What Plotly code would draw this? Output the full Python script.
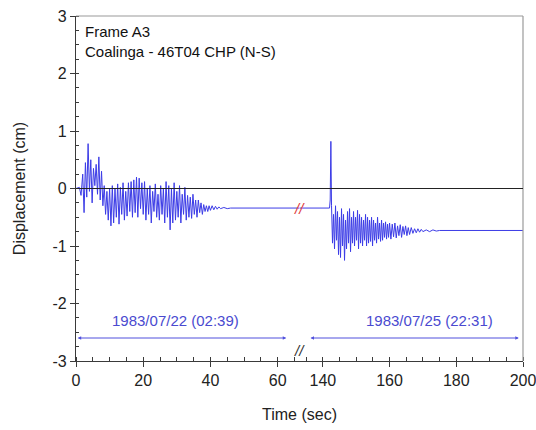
import plotly.graph_objects as go

# ---------------- data ----------------
# Record 1 (1983/07/22 02:39), time (s) and displacement (cm)
t_rec1 = [0.0, 1.0, 1.5, 2.0, 2.4, 2.8, 3.2, 3.6, 4.0, 4.4, 4.8, 5.2, 5.6, 6.0, 6.4, 6.8,
          7.2, 7.6, 8.0, 8.4, 8.8, 9.2, 9.6, 10.0, 10.4, 10.8, 11.2, 11.6, 12.0, 12.4,
          12.8, 13.2, 13.6, 14.0, 14.4, 14.8, 15.2, 15.6, 16.0, 16.4, 16.8, 17.2, 17.6,
          18.0, 18.4, 18.8, 19.2, 19.6, 20.0, 20.4, 20.8, 21.2, 21.6, 22.0, 22.4, 22.8,
          23.2, 23.6, 24.0, 24.4, 24.8, 25.2, 25.6, 26.0, 26.4, 26.8, 27.2, 27.6, 28.0,
          28.4, 28.8, 29.2, 29.6, 30.0, 30.4, 30.8, 31.2, 31.6, 32.0, 32.4, 32.8, 33.2,
          33.6, 34.0, 34.4, 34.8, 35.2, 35.6, 36.0, 36.4, 36.8, 37.2, 37.6, 38.0, 38.4,
          38.8, 39.2, 39.6, 40.0, 40.5, 41.0, 41.5, 42.0, 42.5, 43.0, 44.0, 45.0, 46.0,
          66.5]
d_rec1 = [0.0, 0.02, -0.12, 0.25, -0.42, 0.45, -0.15, 0.78, -0.05, 0.5, -0.25, 0.35, 0.05,
          0.42, -0.1, 0.55, -0.2, 0.3, -0.3, 0.05, -0.45, -0.05, -0.55, 0.0, -0.65, 0.05,
          -0.6, 0.0, -0.5, 0.08, -0.62, 0.02, -0.45, 0.1, -0.55, -0.05, -0.48, 0.1, -0.4,
          0.12, -0.5, 0.15, -0.42, 0.2, -0.5, 0.18, -0.35, 0.1, -0.45, 0.12, -0.55, 0.0,
          -0.45, 0.05, -0.6, -0.05, -0.4, 0.08, -0.5, -0.1, -0.55, 0.05, -0.45, 0.0, -0.6,
          0.12, -0.5, 0.05, -0.72, 0.0, -0.6, 0.1, -0.55, -0.05, -0.5, 0.05, -0.6, -0.1,
          -0.45, 0.02, -0.55, -0.12, -0.5, -0.15, -0.52, -0.1, -0.45, -0.2, -0.5, -0.2,
          -0.42, -0.25, -0.45, -0.28, -0.4, -0.3, -0.4, -0.3, -0.38, -0.3, -0.37, -0.31,
          -0.36, -0.32, -0.35, -0.33, -0.35, -0.34, -0.34]

# Record 2 (1983/07/25 22:31)
t_rec2 = [133.0, 142.0, 142.2, 142.4, 142.6, 142.9, 143.2, 143.5, 143.8, 144.1, 144.4,
          144.7, 145.0, 145.3, 145.6, 145.9, 146.2, 146.5, 146.8, 147.1, 147.4, 147.7,
          148.0, 148.3, 148.6, 148.9, 149.2, 149.5, 149.8, 150.1, 150.4, 150.7, 151.0,
          151.3, 151.6, 151.9, 152.2, 152.5, 152.8, 153.1, 153.4, 153.7, 154.0, 154.3,
          154.6, 154.9, 155.2, 155.5, 155.8, 156.1, 156.4, 156.7, 157.0, 157.3, 157.6,
          157.9, 158.2, 158.5, 158.8, 159.1, 159.4, 159.7, 160.0, 160.4, 160.8, 161.2,
          161.6, 162.0, 162.4, 162.8, 163.2, 163.6, 164.0, 164.4, 164.8, 165.2, 165.6,
          166.0, 166.5, 167.0, 167.5, 168.0, 168.5, 169.0, 169.5, 170.0, 171.0, 172.0,
          173.0, 174.0, 175.0, 200.0]
d_rec2 = [-0.34, -0.34, -0.2, 0.82, -0.3, -0.95, -0.45, -1.05, -0.3, -0.9, -0.4, -1.15,
          -0.5, -1.2, -0.35, -1.0, -0.45, -1.25, -0.55, -1.05, -0.4, -0.95, -0.35, -1.1,
          -0.5, -0.95, -0.4, -1.0, -0.5, -0.9, -0.38, -1.05, -0.45, -0.95, -0.5, -1.0,
          -0.55, -0.9, -0.45, -1.0, -0.5, -0.95, -0.55, -0.92, -0.5, -1.0, -0.55, -0.9,
          -0.6, -0.95, -0.5, -0.88, -0.6, -0.92, -0.55, -0.9, -0.6, -0.85, -0.58, -0.88,
          -0.62, -0.85, -0.6, -0.88, -0.62, -0.84, -0.6, -0.86, -0.65, -0.82, -0.63,
          -0.85, -0.66, -0.8, -0.65, -0.82, -0.68, -0.8, -0.68, -0.78, -0.7, -0.77, -0.7,
          -0.76, -0.71, -0.75, -0.72, -0.75, -0.72, -0.74, -0.73, -0.73]

# record duration markers (start, end) and labels
rec1_span = [0.5, 63.0]
rec2_span = [136.3, 199.2]
span_level = -2.6
rec1_label = "1983/07/22 (02:39)"
rec2_label = "1983/07/25 (22:31)"
rec1_label_pos = [29.7, -2.3]
rec2_label_pos = [172.0, -2.3]

x1_ticks = [0, 20, 40, 60]
x1_ticktext = ["0", "20", "40", "60"]
x2_ticks = [140, 160, 180, 200]
x2_ticktext = ["140", "160", "180", "200"]
y_ticks = [-3, -2, -1, 0, 1, 2, 3]
y_ticktext = ["-3", "-2", "-1", "0", "1", "2", "3"]

title_lines = ["Frame A3", "Coalinga - 46T04 CHP (N-S)"]

# ---------------- figure ----------------
FONT = "Liberation Sans, Arial, sans-serif"
BLUE = "#3c3ce6"
AX = "#3a3a3a"

fig = go.Figure()
fig.add_trace(go.Scatter(x=t_rec1, y=d_rec1, mode="lines", xaxis="x", yaxis="y",
                         line=dict(color=BLUE, width=1), showlegend=False))
fig.add_trace(go.Scatter(x=t_rec2, y=d_rec2, mode="lines", xaxis="x2", yaxis="y",
                         line=dict(color=BLUE, width=1), showlegend=False))

tickfont = dict(family=FONT, size=16, color="#222")

fig.update_layout(
    width=536, height=430,
    margin=dict(l=76, r=13, t=16, b=69, autoexpand=False),
    paper_bgcolor="white", plot_bgcolor="white",
    font=dict(family=FONT, color="#222"),
    xaxis=dict(domain=[0, 0.5], range=[0, 66.5], tickvals=x1_ticks, ticktext=x1_ticktext,
               ticks="outside", ticklen=5, tickcolor=AX, showline=True, linecolor=AX,
               linewidth=1.2, showgrid=False, zeroline=False, tickfont=tickfont, anchor="y",
               automargin=False, ticklabeloverflow="allow",
               minor=dict(ticks="inside", dtick=5, tick0=0, ticklen=4, tickcolor=AX, showgrid=False)),
    xaxis2=dict(domain=[0.5, 1], range=[133, 200], tickvals=x2_ticks, ticktext=x2_ticktext,
                ticks="outside", ticklen=5, tickcolor=AX, showline=True, linecolor=AX,
                linewidth=1.2, showgrid=False, zeroline=False, tickfont=tickfont, anchor="y",
                automargin=False, ticklabeloverflow="allow",
                minor=dict(ticks="inside", dtick=5, tick0=140, ticklen=4, tickcolor=AX, showgrid=False)),
    yaxis=dict(range=[-3, 3], tickvals=y_ticks, ticktext=y_ticktext, ticks="outside",
               ticklen=5, tickcolor=AX, showline=True, linecolor=AX, linewidth=1.2,
               showgrid=False, zeroline=False, tickfont=tickfont, anchor="x", automargin=False,
               title=dict(text="Displacement (cm)", font=dict(family=FONT, size=16, color="#222"),
                          standoff=22),
               minor=dict(ticks="inside", dtick=0.25, tick0=0, ticklen=3, tickcolor=AX, showgrid=False)),
)

# frame (top / right), zero line
fig.add_shape(type="line", xref="paper", yref="paper", x0=0, x1=1, y0=1, y1=1,
              line=dict(color="#9a9a9a", width=1.2))
fig.add_shape(type="line", xref="paper", yref="paper", x0=1, x1=1, y0=0, y1=1,
              line=dict(color="#9a9a9a", width=1.2))
fig.add_shape(type="line", xref="paper", yref="y", x0=0, x1=1, y0=0, y1=0,
              line=dict(color="#222", width=1.2))

# duration arrows
for span, xr in [(rec1_span, "x"), (rec2_span, "x2")]:
    fig.add_annotation(x=span[0], y=span_level, ax=span[1], ay=span_level,
                       xref=xr, yref="y", axref=xr, ayref="y", text="",
                       showarrow=True, arrowside="end+start", arrowhead=2, startarrowhead=2,
                       arrowsize=0.7, startarrowsize=0.7, arrowwidth=1, arrowcolor="#5050dd")

fig.add_annotation(x=rec1_label_pos[0], y=rec1_label_pos[1], xref="x", yref="y",
                   text=rec1_label, showarrow=False,
                   font=dict(family=FONT, size=15, color="#4a4ad0"))
fig.add_annotation(x=rec2_label_pos[0], y=rec2_label_pos[1], xref="x2", yref="y",
                   text=rec2_label, showarrow=False,
                   font=dict(family=FONT, size=15, color="#4a4ad0"))

# title text inside plot
fig.add_annotation(x=0.016, y=0.985, xref="paper", yref="paper", xanchor="left", yanchor="top",
                   text="<br>".join(title_lines), showarrow=False, align="left",
                   font=dict(family=FONT, size=15, color="#111"))

# axis break markers
fig.add_annotation(x=0.5, y=d_rec1[-1], xref="paper", yref="y", text="<i>//</i>",
                   showarrow=False, font=dict(family=FONT, size=15, color="#e04040"))
fig.add_annotation(x=0.5, y=0, xref="paper", yref="paper", text="<i>//</i>",
                   showarrow=False, font=dict(family=FONT, size=15, color="#333"))

# x axis title
fig.add_annotation(x=0.5, y=-0.125, xref="paper", yref="paper", yanchor="top",
                   text="Time (sec)", showarrow=False,
                   font=dict(family=FONT, size=16, color="#222"))

fig.write_html("out.html")
